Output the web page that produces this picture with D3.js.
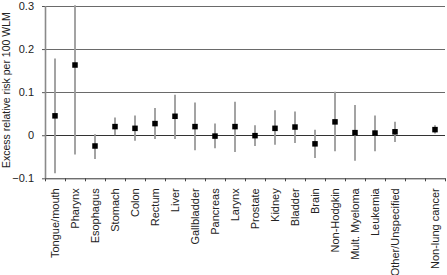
<!DOCTYPE html>
<html>
<head>
<meta charset="utf-8">
<script src="https://cdn.jsdelivr.net/npm/d3@7"></script>
<style>
  body { margin: 0; background: #fff; }
  text { font-family: "Liberation Sans", Arial, sans-serif; }
</style>
</head>
<body>
<div id="chart"></div>
<script>
// cancer sites (a blank slot sits before the summary entry)
var sites = ["Tongue/mouth", "Pharynx", "Esophagus", "Stomach", "Colon", "Rectum", "Liver",
    "Gallbladder", "Pancreas", "Larynx", "Prostate", "Kidney", "Bladder", "Brain",
    "Non-Hodgkin", "Mult. Myeloma", "Leukemia", "Other/Unspecified", "", "Non-lung cancer"];
var estimate = [0.045, 0.163, -0.025, 0.020, 0.016, 0.027, 0.044,
    0.020, -0.002, 0.020, -0.001, 0.016, 0.019, -0.020,
    0.031, 0.006, 0.005, 0.008, null, 0.013];
var lower = [-0.088, -0.045, -0.055, 0.000, -0.013, -0.009, -0.009,
    -0.035, -0.030, -0.039, -0.025, -0.022, -0.018, -0.053,
    -0.037, -0.059, -0.037, -0.016, null, 0.004];
var upper = [0.178, 0.302, 0.002, 0.041, 0.046, 0.063, 0.094,
    0.076, 0.027, 0.078, 0.023, 0.058, 0.055, 0.013,
    0.101, 0.070, 0.046, 0.031, null, 0.023];
var yTicks = [-0.1, 0, 0.1, 0.2, 0.3];

var margin = {top: 6, right: 2, bottom: 96.7, left: 45},
    width = 447 - margin.left - margin.right,
    height = 275 - margin.top - margin.bottom;

var svg = d3.select("#chart")
    .append("svg")
    .attr("width", 447)
    .attr("height", 275)
    .append("g")
    .attr("transform", "translate(" + margin.left + "," + margin.top + ")");

var x = d3.scaleBand()
    .domain(d3.range(sites.length))
    .range([0, width]);

var y = d3.scaleLinear()
    .domain([-0.1, 0.3])
    .range([height, 0]);

var data = sites.map(function (s, i) {
    return {name: s, est: estimate[i], lo: lower[i], hi: upper[i], i: i};
}).filter(function (d) { return d.est !== null; });

// horizontal grid lines
svg.append("g")
    .selectAll("line")
    .data(yTicks.filter(function (t) { return t > -0.1; }))
    .enter()
    .append("line")
    .attr("x1", 0)
    .attr("x2", width)
    .attr("y1", function (d) { return Math.round(y(d)) + 0.5; })
    .attr("y2", function (d) { return Math.round(y(d)) + 0.5; })
    .style("stroke", function (d) { return d === 0 ? "#333" : "#6a6a6a"; })
    .style("stroke-width", 1.2);

// y axis
var yAxis = svg.append("g")
    .call(d3.axisLeft(y).tickValues(yTicks).tickSize(3).tickPadding(8)
        .tickFormat(function (d) { return d === 0 ? "0" : d3.format(".1f")(d).replace("-", "\u2212"); }));
yAxis.select(".domain").remove();
yAxis.selectAll("line").style("stroke", "#555");
yAxis.selectAll("text").style("font-size", "11px").style("fill", "#222");

svg.append("line")
    .attr("x1", 0.5).attr("x2", 0.5)
    .attr("y1", 0).attr("y2", height)
    .style("stroke", "#8a8a8a")
    .style("stroke-width", 1.6);

// x axis: labels at band centres, ticks at band edges
var xAxis = svg.append("g")
    .attr("transform", "translate(0," + height + ")")
    .call(d3.axisBottom(x).tickSize(0).tickPadding(0)
        .tickFormat(function (i) { return sites[i]; }));
xAxis.select(".domain").style("stroke", "#333");
xAxis.selectAll("text")
    .style("font-size", "11px")
    .style("fill", "#222")
    .attr("text-anchor", "end")
    .attr("transform", "rotate(-90)")
    .attr("x", -10)
    .attr("y", 0)
    .attr("dy", "0.35em");

svg.append("g")
    .attr("transform", "translate(0," + height + ")")
    .selectAll("line")
    .data(d3.range(sites.length + 1))
    .enter()
    .append("line")
    .attr("x1", function (i) { return i * x.bandwidth() + 0.5; })
    .attr("x2", function (i) { return i * x.bandwidth() + 0.5; })
    .attr("y1", 0)
    .attr("y2", 3)
    .style("stroke", "#444");

// confidence intervals
svg.append("g")
    .selectAll("line")
    .data(data)
    .enter()
    .append("line")
    .attr("x1", function (d) { return x(d.i) + x.bandwidth() / 2; })
    .attr("x2", function (d) { return x(d.i) + x.bandwidth() / 2; })
    .attr("y1", function (d) { return y(d.lo); })
    .attr("y2", function (d) { return y(d.hi); })
    .style("stroke", "#999")
    .style("stroke-width", 1.8);

// point estimates
var size = 5.5;
svg.append("g")
    .selectAll("rect")
    .data(data)
    .enter()
    .append("rect")
    .attr("x", function (d) { return x(d.i) + x.bandwidth() / 2 - size / 2; })
    .attr("y", function (d) { return y(d.est) - size / 2; })
    .attr("width", size)
    .attr("height", size)
    .style("fill", "#000");

svg.append("text")
    .attr("transform", "rotate(-90)")
    .attr("x", -(y(0.1) - 2))
    .attr("y", -35.3)
    .attr("text-anchor", "middle")
    .style("font-size", "10.5px")
    .style("fill", "#222")
    .text("Excess relative risk per 100 WLM");
</script>
</body>
</html>
